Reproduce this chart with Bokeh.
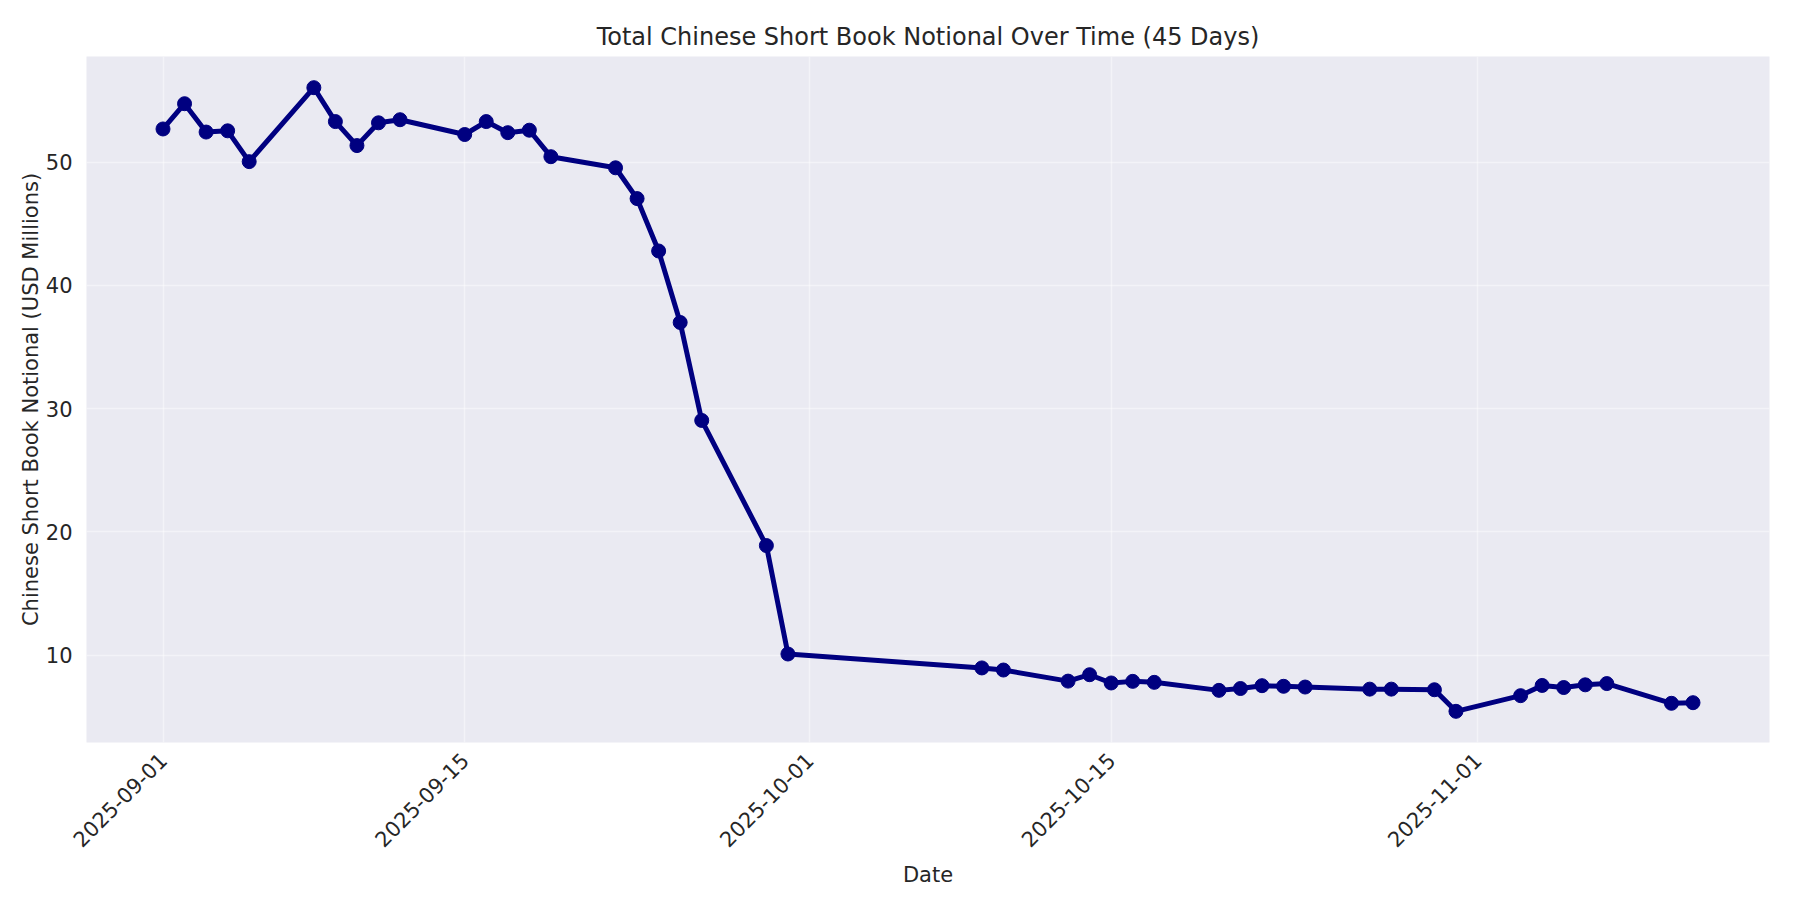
import math
import pandas as pd
from bokeh.plotting import figure
from bokeh.models import ColumnDataSource, Range1d, FixedTicker, DatetimeTickFormatter
from bokeh.embed import file_html
from bokeh.resources import INLINE

dates = [
    "2025-09-01", "2025-09-02", "2025-09-03", "2025-09-04", "2025-09-05",
    "2025-09-08", "2025-09-09", "2025-09-10", "2025-09-11", "2025-09-12",
    "2025-09-15", "2025-09-16", "2025-09-17", "2025-09-18", "2025-09-19",
    "2025-09-22", "2025-09-23", "2025-09-24", "2025-09-25", "2025-09-26",
    "2025-09-29", "2025-09-30",
    "2025-10-09", "2025-10-10", "2025-10-13", "2025-10-14", "2025-10-15",
    "2025-10-16", "2025-10-17", "2025-10-20", "2025-10-21", "2025-10-22",
    "2025-10-23", "2025-10-24", "2025-10-27", "2025-10-28", "2025-10-30",
    "2025-10-31",
    "2025-11-03", "2025-11-04", "2025-11-05", "2025-11-06", "2025-11-07",
    "2025-11-10", "2025-11-11",
]
notional = [
    52.7, 54.75, 52.45, 52.55, 50.05,
    56.05, 53.3, 51.35, 53.2, 53.45,
    52.25, 53.3, 52.4, 52.6, 50.45,
    49.55, 47.05, 42.8, 37.0, 29.05,
    18.9, 10.1,
    8.97, 8.8, 7.9, 8.42, 7.75,
    7.88, 7.8, 7.15, 7.3, 7.53,
    7.48, 7.42, 7.25, 7.25, 7.2,
    5.45,
    6.72, 7.55, 7.38, 7.6, 7.7,
    6.1, 6.15,
]
tick_dates = ["2025-09-01", "2025-09-15", "2025-10-01", "2025-10-15", "2025-11-01"]
y_ticks = [10, 20, 30, 40, 50]

title_text = "Total Chinese Short Book Notional Over Time (45 Days)"
x_label = "Date"
y_label = "Chinese Short Book Notional (USD Millions)"

x = pd.to_datetime(dates)
src = ColumnDataSource(data=dict(x=x, y=notional))

xmin, xmax = x.min(), x.max()
xpad = (xmax - xmin) * 0.05
ymin, ymax = min(notional), max(notional)
ypad = (ymax - ymin) * 0.05

FONT = "DejaVu Sans"
TXT = "#262626"

p = figure(
    width=1784, height=892,
    output_backend="svg", toolbar_location=None,
    x_range=Range1d(xmin - xpad, xmax + xpad),
    y_range=Range1d(ymin - ypad, ymax + ypad),
    x_axis_type="datetime",
    min_border_left=86, min_border_right=15,
    min_border_top=56, min_border_bottom=150,
    background_fill_color="#EAEAF2", border_fill_color="white",
    outline_line_color=None,
)

p.title.text = title_text
p.title.align = "center"
p.title.text_font = FONT
p.title.text_font_size = "24px"
p.title.text_font_style = "normal"
p.title.text_color = TXT
p.title.standoff = 12

p.line("x", "y", source=src, line_color="#000080", line_width=5)
p.scatter("x", "y", source=src, size=14, fill_color="#000080", line_color="#000080")

tick_ms = [pd.Timestamp(d).value / 1e6 for d in tick_dates]
p.xaxis.ticker = FixedTicker(ticks=tick_ms)
p.xaxis.formatter = DatetimeTickFormatter(days="%Y-%m-%d", months="%Y-%m-%d", years="%Y-%m-%d")
p.xaxis.major_label_orientation = math.pi / 4
p.yaxis.ticker = FixedTicker(ticks=y_ticks)

for ax in (p.xaxis, p.yaxis):
    ax.axis_line_color = None
    ax.major_tick_line_color = None
    ax.minor_tick_line_color = None
    ax.major_label_text_font = FONT
    ax.major_label_text_font_size = "21px"
    ax.major_label_text_color = TXT
    ax.axis_label_text_font = FONT
    ax.axis_label_text_font_size = "21px"
    ax.axis_label_text_font_style = "normal"
    ax.axis_label_text_color = TXT
    ax.major_label_standoff = 8

p.xaxis.axis_label = x_label
p.yaxis.axis_label = y_label
p.xaxis.axis_label_standoff = 6
p.yaxis.axis_label_standoff = 0

p.grid.grid_line_color = "white"
p.grid.grid_line_width = 1.5
p.grid.grid_line_alpha = 0.45
p.xgrid.ticker = FixedTicker(ticks=tick_ms)
p.ygrid.ticker = FixedTicker(ticks=y_ticks)

open("out.html", "w").write(file_html(p, INLINE))
